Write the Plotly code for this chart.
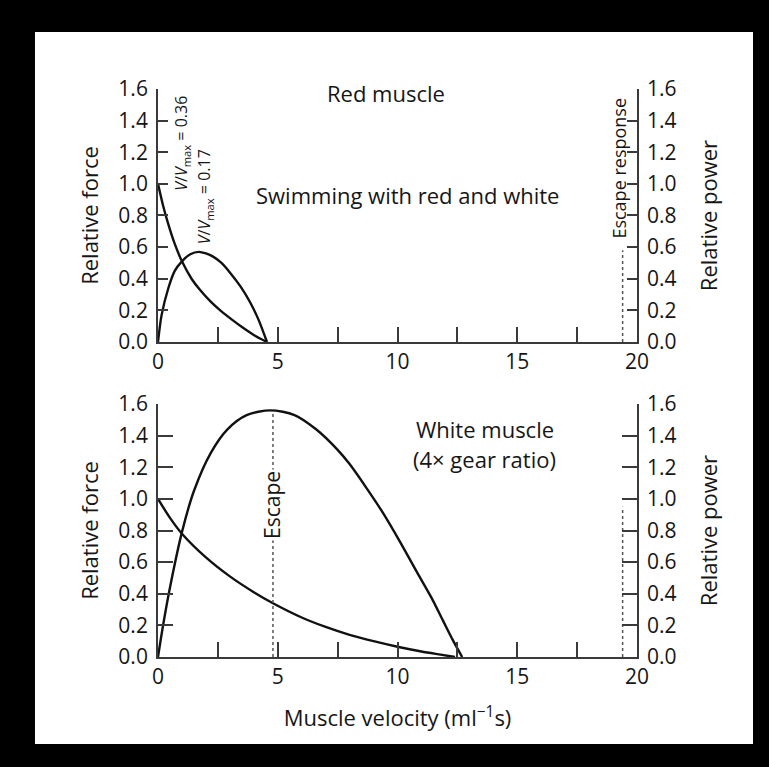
import plotly.graph_objects as go

# ---------------- data ----------------
red_force_x = [0, 0.2, 0.42, 0.7, 1.0, 1.4, 1.75, 2.2, 2.6, 3.1, 3.55, 4.05, 4.55]
red_force_y = [1.0, 0.87, 0.75, 0.62, 0.51, 0.40, 0.33, 0.255, 0.20, 0.14, 0.09, 0.04, 0.0]

red_power_x = [0, 0.15, 0.43, 0.7, 1.0, 1.35, 1.7, 2.0, 2.3, 2.65, 3.0, 3.45, 3.85, 4.2, 4.55]
red_power_y = [0, 0.17, 0.34, 0.45, 0.51, 0.555, 0.57, 0.56, 0.54, 0.50, 0.44, 0.35, 0.25, 0.14, 0.0]

white_force_x = [0, 0.5, 1.0, 2.0, 3.0, 4.0, 4.8, 6.0, 7.0, 8.0, 9.0, 10.0, 11.0, 11.8, 12.4]
white_force_y = [1.0, 0.88, 0.78, 0.63, 0.51, 0.41, 0.34, 0.25, 0.19, 0.14, 0.10, 0.065, 0.035, 0.015, 0.0]

white_power_x = [0, 0.2, 0.5, 1.0, 1.5, 2.2, 2.9, 3.7, 4.7, 5.7, 6.6, 7.5, 8.0, 8.7, 9.4,
                 10.1, 10.8, 11.4, 11.9, 12.3, 12.7]
white_power_y = [0, 0.19, 0.44, 0.79, 1.05, 1.29, 1.44, 1.53, 1.56, 1.53, 1.44, 1.31, 1.22, 1.07, 0.91,
                 0.73, 0.54, 0.38, 0.23, 0.11, 0.0]

escape_red_x = [19.4, 19.4]
escape_red_y = [0, 0.58]
escape_white_x = [4.8, 4.8]
escape_white_y = [0, 1.55]
escape_white_right_x = [19.4, 19.4]
escape_white_right_y = [0, 0.95]

x_tickvals = [0, 5, 10, 15, 20]
y_tickvals = [0.0, 0.2, 0.4, 0.6, 0.8, 1.0, 1.2, 1.4, 1.6]
y_ticktext = ["0.0", "0.2", "0.4", "0.6", "0.8", "1.0", "1.2", "1.4", "1.6"]

# ---------------- figure ----------------
FONT = "Open Sans"
TXT = "#161616"
AX = "#3a3a3a"
curve = dict(color="#111111", width=2.4)
dotted = dict(color="#555555", width=1.5, dash="dot")

fig = go.Figure()
fig.add_trace(go.Scatter(x=red_force_x, y=red_force_y, mode="lines", line=dict(shape="spline", smoothing=0.8, **curve),
                         xaxis="x", yaxis="y", showlegend=False))
fig.add_trace(go.Scatter(x=red_power_x, y=red_power_y, mode="lines", line=dict(shape="spline", smoothing=0.8, **curve),
                         xaxis="x", yaxis="y2", showlegend=False))
fig.add_trace(go.Scatter(x=escape_red_x, y=escape_red_y, mode="lines", line=dotted,
                         xaxis="x", yaxis="y", showlegend=False))

fig.add_trace(go.Scatter(x=white_force_x, y=white_force_y, mode="lines", line=dict(shape="spline", smoothing=0.8, **curve),
                         xaxis="x2", yaxis="y3", showlegend=False))
fig.add_trace(go.Scatter(x=white_power_x, y=white_power_y, mode="lines", line=dict(shape="spline", smoothing=0.8, **curve),
                         xaxis="x2", yaxis="y4", showlegend=False))
fig.add_trace(go.Scatter(x=escape_white_x, y=escape_white_y, mode="lines", line=dotted,
                         xaxis="x2", yaxis="y3", showlegend=False))
fig.add_trace(go.Scatter(x=escape_white_right_x, y=escape_white_right_y, mode="lines", line=dotted,
                         xaxis="x2", yaxis="y3", showlegend=False))

tickfont = dict(family=FONT, size=21, color=TXT)
titlefont = dict(family=FONT, size=22, color=TXT)


def xax(anchor, title=None):
    d = dict(anchor=anchor, domain=[0, 1], range=[0, 20], tickvals=x_tickvals,
             ticks="inside", ticklen=15, tickwidth=1.5, tickcolor=AX,
             minor=dict(dtick=2.5, tick0=0, ticks="inside", ticklen=15, tickwidth=1.5, tickcolor=AX),
             showline=True, linecolor=AX, linewidth=1.8, showgrid=False, zeroline=False,
             tickfont=tickfont, ticklabelstandoff=0, fixedrange=True)
    if title:
        d["title"] = dict(text=title, font=titlefont, standoff=22)
    return d


def yax(domain, side, ticklen, title, anchor, standoff, overlaying=None):
    d = dict(domain=domain, range=[0, 1.6], tickvals=y_tickvals, ticktext=y_ticktext, side=side,
             ticks="inside", ticklen=ticklen, tickwidth=1.5, tickcolor=AX,
             showline=True, linecolor=AX, linewidth=1.8, showgrid=False, zeroline=False,
             tickfont=tickfont, ticklabelstandoff=4, anchor=anchor, fixedrange=True,
             title=dict(text=title, font=titlefont, standoff=standoff))
    if overlaying:
        d["overlaying"] = overlaying
    return d


top_dom = [0.5546, 1.0]
bot_dom = [0.0, 0.4454]

fig.update_layout(
    width=769, height=767,
    margin=dict(l=158, r=132, t=89, b=110),
    paper_bgcolor="black", plot_bgcolor="white",
    font=dict(family=FONT, color=TXT),
    xaxis=xax("y"),
    yaxis=yax(top_dom, "left", 10, "Relative force", "x", 14),
    yaxis2=yax(top_dom, "right", 10, "Relative power", "x", 26, overlaying="y"),
    xaxis2=xax("y3", "Muscle velocity (ml<sup>−1</sup>s)"),
    yaxis3=yax(bot_dom, "left", 15, "Relative force", "x2", 14),
    yaxis4=yax(bot_dom, "right", 15, "Relative power", "x2", 26, overlaying="y3"),
    shapes=[dict(type="rect", xref="paper", yref="paper", x0=-0.2568, x1=1.2422, y0=-0.1532, y1=1.1004,
                 fillcolor="white", line=dict(width=0), layer="below")],
)

ann = []


def A(text, x, y, xref, yref, size=22, angle=0, bg=None):
    d = dict(text=text, x=x, y=y, xref=xref, yref=yref, showarrow=False, textangle=angle,
             font=dict(family=FONT, size=size, color=TXT), xanchor="center", yanchor="middle")
    if bg:
        d["bgcolor"] = bg
        d["borderpad"] = 1
    ann.append(d)


A("Red muscle", 9.5, 1.575, "x", "y")
A("Swimming with red and white", 10.4, 0.93, "x", "y")
A("<i>V</i>/<i>V</i><sub>max</sub> = 0.36", 1.0, 1.26, "x", "y", size=16, angle=-90)
A("<i>V</i>/<i>V</i><sub>max</sub> = 0.17", 1.95, 0.92, "x", "y", size=16, angle=-90)
A("Escape response", 19.27, 1.10, "x", "y", size=18, angle=-90)

A("<i>V</i>/<i>V</i><sub>max</sub> = 0.38", 4.8, 1.68, "x2", "y3")
A("White muscle", 13.65, 1.44, "x2", "y3")
A("(4× gear ratio)", 13.65, 1.25, "x2", "y3")
A("Escape", 4.75, 0.96, "x2", "y3", size=21, angle=-90, bg="white")

fig.update_layout(annotations=ann)

fig.write_html("out.html")
